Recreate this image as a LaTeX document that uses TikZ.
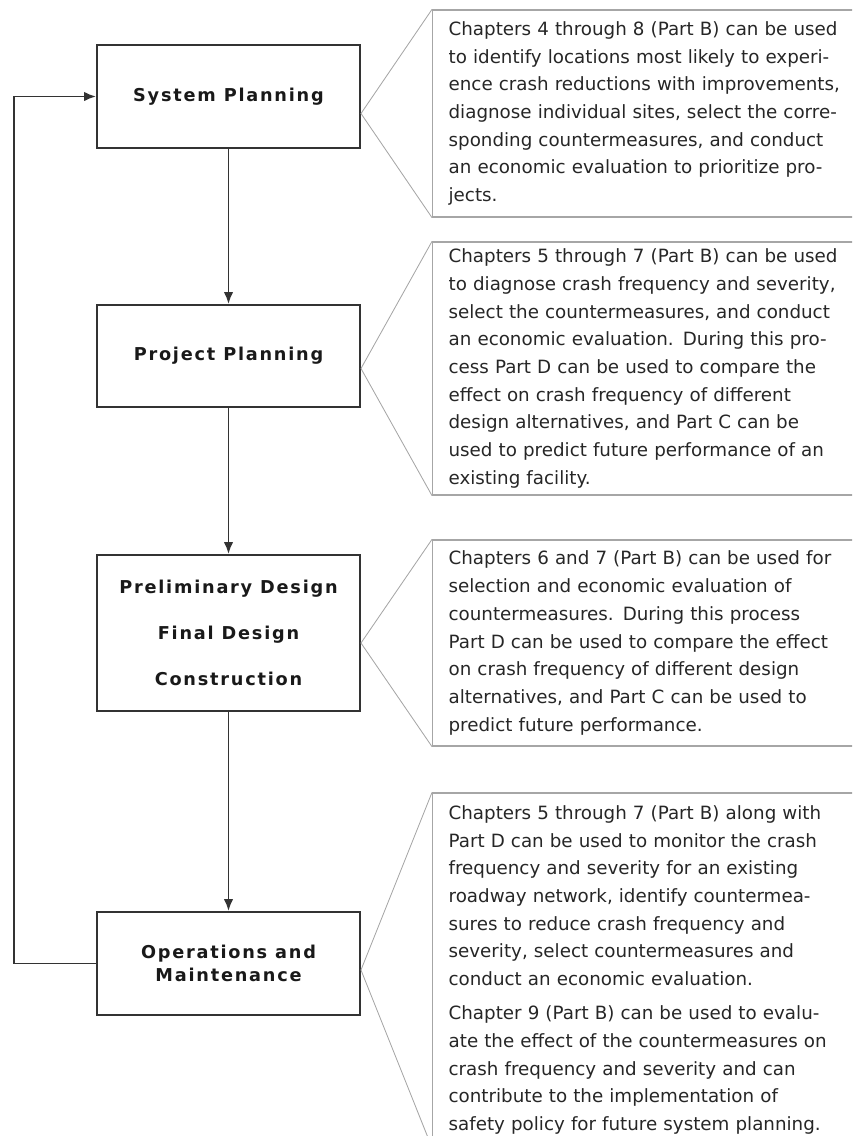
\documentclass[tikz,border=0pt]{standalone}
\usepackage{fontspec}
\usepackage{tikz}
\usetikzlibrary{arrows.meta}
\newfontfamily\notefont{DejaVu Sans}
\newfontfamily\stagefont{DejaVu Sans}[LetterSpace=10]

\begin{document}
\begin{tikzpicture}[stage/.style={draw=black!80,line width=1.4pt,minimum width=6.575cm,align=center,text=black!90,font=\stagefont\bfseries\fontsize{12.6pt}{16.4pt}\selectfont},
note/.style={draw=black!35,line width=0.9pt,anchor=west,text width=10.4cm,inner xsep=0.4cm,inner ysep=0pt,align=left,text=black!85,font=\notefont\fontsize{13pt}{19.7pt}\selectfont},
flow/.style={draw=black!80,line width=1.4pt,-{Latex[length=3mm,width=2.4mm]}},
pointer/.style={draw=black!35,line width=0.6pt}]
\clip (0,0) rectangle (21.3,-28.4);
\node[stage,minimum height=2.575cm] (sys) at (5.7125,-2.4125) {System Planning};
\node[stage,minimum height=2.55cm] (proj) at (5.7125,-8.9) {Project Planning};
\node[stage,minimum height=3.9cm] (design) at (5.7125,-15.825) {Preliminary Design\\[16.3pt]Final Design\\[16.3pt]Construction};
\node[stage,minimum height=2.575cm] (ops) at (5.7125,-24.0875) {Operations and\\Maintenance};
\node[note,minimum height=5.175cm] (nsys) at (10.8,-2.8375) {Chapters 4 through 8 (Part B) can be used\\to identify locations most likely to experi-\\ence crash reductions with improvements,\\diagnose individual sites, select the corre-\\sponding countermeasures, and conduct\\an economic evaluation to prioritize pro-\\jects.};
\node[note,minimum height=6.325cm] (nproj) at (10.8,-9.2125) {Chapters 5 through 7 (Part B) can be used\\to diagnose crash frequency and severity,\\select the countermeasures, and conduct\\an economic evaluation. During this pro-\\cess Part D can be used to compare the\\effect on crash frequency of different\\design alternatives, and Part C can be\\used to predict future performance of an\\existing facility.};
\node[note,minimum height=5.15cm] (ndesign) at (10.8,-16.075) {Chapters 6 and 7 (Part B) can be used for\\selection and economic evaluation of\\countermeasures. During this process\\Part D can be used to compare the effect\\on crash frequency of different design\\alternatives, and Part C can be used to\\predict future performance.};
\node[note,minimum height=8.85cm] (nops) at (10.8,-24.25) {Chapters 5 through 7 (Part B) along with\\Part D can be used to monitor the crash\\frequency and severity for an existing\\roadway network, identify countermea-\\sures to reduce crash frequency and\\severity, select countermeasures and\\conduct an economic evaluation.\\[4.6pt]Chapter 9 (Part B) can be used to evalu-\\ate the effect of the countermeasures on\\crash frequency and severity and can\\contribute to the implementation of\\safety policy for future system planning.};
\coordinate (back) at (0.35,0);
\draw[flow] (sys) -- (proj);
\draw[flow] (proj) -- (design);
\draw[flow] (design) -- (ops);
\draw[flow] (ops.west) -- (ops.west -| back) |- (sys.west);
\draw[pointer] (nsys.north west) -- (sys.east |- nsys.west) -- (nsys.south west);
\draw[pointer] (nproj.north west) -- (proj.east |- nproj.west) -- (nproj.south west);
\draw[pointer] (ndesign.north west) -- (design.east |- ndesign.west) -- (ndesign.south west);
\draw[pointer] (nops.north west) -- (ops.east |- nops.west) -- (nops.south west);
\end{tikzpicture}
\end{document}
